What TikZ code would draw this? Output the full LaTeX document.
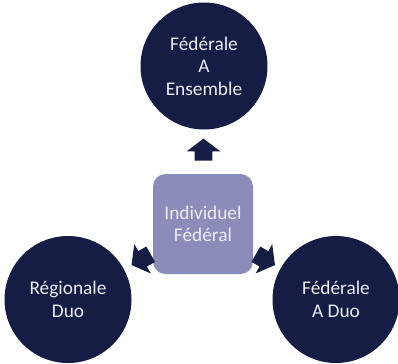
\documentclass[tikz,border=0pt]{standalone}
\usepackage{fontspec}
\setmainfont{Carlito}
\usepackage{xcolor}
\usetikzlibrary{
    shapes.arrows,
    positioning
}
\definecolor{navyfill}{RGB}{21, 29, 68}
\definecolor{lavfill}{RGB}{140, 140, 186}
\definecolor{softwhite}{RGB}{236, 236, 242}

\begin{document}
\begin{tikzpicture}[
        disc/.style={circle, fill=navyfill, minimum size=2.54cm, inner sep=0pt, align=center, text=softwhite, font=\fontsize{11}{12.8}\selectfont},
        hub/.style={rounded corners=0.25cm, fill=lavfill, minimum size=2cm, inner sep=0pt, align=center, text=softwhite, font=\fontsize{11}{12.8}\selectfont},
        blockarrow/.style={single arrow, fill=navyfill, minimum height=0.44cm, minimum width=0.66cm, single arrow head extend=0.16cm, single arrow tip angle=106, inner xsep=0pt, inner ysep=0.17cm}
    ]
        \useasboundingbox (0, 0) rectangle (7.96, 7.26);

        % Center
        \node[hub] (indiv) at (4.06, 2.78) {Individuel\\Fédéral};

        % Outer circles
        \node[disc] (fedens) at (4.08, 5.94) {Fédérale\\A\\Ensemble};
        \node[disc] (regduo) at (1.36, 1.27) {Régionale\\Duo};
        \node[disc] (fedduo) at (6.72, 1.27) {Fédérale\\A Duo};

        % Arrows
        \node[blockarrow, rotate=90] (uparr) at (4.07, 4.2) {};
        \node[blockarrow, rotate=209.4] (leftarr) at (2.88, 2.1) {};
        \node[blockarrow, rotate=-29.6] (rightarr) at (5.25, 2.1) {};
    \end{tikzpicture}
\end{document}
